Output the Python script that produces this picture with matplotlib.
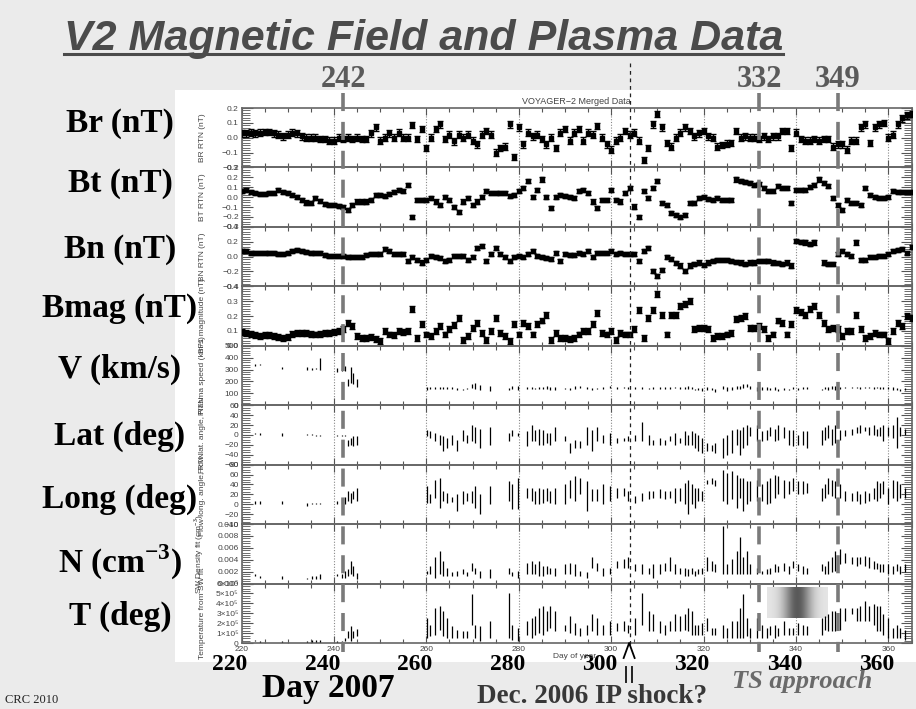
import numpy as np
import matplotlib
matplotlib.use('Agg')
import matplotlib.pyplot as plt
import matplotlib.transforms as mtransforms
from matplotlib.lines import Line2D
from matplotlib.patches import Rectangle
from matplotlib.ticker import MultipleLocator, AutoMinorLocator, FuncFormatter

plt.rcParams['font.family'] = ['Liberation Sans', 'DejaVu Sans']
plt.rcParams['mathtext.fontset'] = 'custom'
plt.rcParams['mathtext.rm'] = 'Liberation Serif:bold'
plt.rcParams['mathtext.bf'] = 'Liberation Serif:bold'

# ---------------- data ----------------
DAYS = list(range(220, 366))

BR = [0.03, 0.03, 0.035, 0.03, 0.035, 0.04, 0.04, 0.03, 0.02, 0.01,
      0.02, 0.035, 0.03, 0.01, 0.0, 0.0, 0.0, -0.01, -0.01, -0.02,
      -0.02, 0.0, -0.01, 0.0, -0.01, 0.0, -0.01, -0.01, 0.03, 0.07,
      -0.02, 0.0, 0.03, 0.0, 0.035, 0.0, 0.0, 0.085, -0.01, 0.06,
      -0.07, 0.0, 0.06, 0.09, -0.01, 0.02, -0.025, 0.02, 0.0, 0.02,
      -0.02, -0.045, 0.02, 0.045, 0.02, -0.1, -0.07, -0.06, 0.09, -0.13,
      0.07, -0.045, 0.035, 0.01, 0.02, -0.01, -0.045, 0.0, -0.07, 0.035,
      0.06, -0.02, 0.035, 0.06, -0.02, 0.035, 0.02, 0.08, 0.0, -0.045,
      -0.08, -0.02, 0.0, 0.045, 0.02, 0.035, -0.02, -0.15, -0.07, 0.09,
      0.16, 0.07, -0.035, -0.06, 0.0, 0.035, 0.07, 0.045, 0.01, 0.03,
      0.045, 0.01, 0.0, -0.06, -0.05, -0.04, -0.035, 0.045, 0.0, 0.01,
      0.0, 0.0, -0.01, 0.01, -0.01, 0.01, 0.01, 0.045, 0.045, -0.07,
      0.035, -0.01, -0.02, -0.02, -0.01, -0.02, -0.01, -0.01, -0.06, -0.045,
      -0.045, -0.08, -0.02, -0.02, 0.07, 0.09, -0.035, 0.07, 0.09, 0.1,
      0.0, 0.02, 0.09, 0.13, 0.15, 0.16]

BT = [0.06, 0.075, 0.05, 0.04, 0.035, 0.035, 0.04, 0.045, 0.07, 0.05,
      0.04, 0.025, 0.0, -0.03, -0.055, -0.06, -0.01, -0.04, -0.07, -0.08,
      -0.08, -0.09, -0.1, -0.13, -0.08, -0.045, -0.045, -0.045, -0.03, 0.025,
      0.025, 0.01, 0.03, 0.05, 0.075, 0.06, 0.125, -0.2, -0.03, -0.03,
      -0.03, -0.01, -0.045, -0.08, 0.0, -0.03, -0.1, -0.15, -0.045, -0.01,
      -0.08, -0.045, 0.0, 0.06, 0.04, 0.04, 0.045, 0.04, 0.015, 0.025,
      0.06, 0.09, 0.16, 0.0, 0.07, 0.18, 0.0, -0.11, 0.0, 0.025,
      0.015, 0.0, -0.01, 0.06, 0.075, 0.04, -0.045, -0.11, -0.03, -0.03,
      0.075, -0.03, -0.045, 0.04, 0.09, -0.095, -0.2, 0.06, -0.01, 0.09,
      0.16, -0.06, -0.08, -0.16, -0.18, -0.2, -0.18, -0.06, -0.06, -0.01,
      0.0, -0.02, -0.03, -0.01, -0.03, -0.03, -0.03, 0.18, 0.16, 0.15,
      0.14, 0.125, 0.13, 0.09, 0.06, 0.06, 0.11, 0.09, 0.09, -0.06,
      0.075, 0.075, 0.075, 0.1, 0.125, 0.18, 0.14, 0.11, -0.01, -0.08,
      -0.13, -0.03, -0.06, -0.06, -0.08, 0.09, 0.025, 0.0, -0.01, -0.01,
      0.0, 0.06, 0.05, 0.05, 0.05, 0.05]

BN = [0.07, 0.075, 0.05, 0.045, 0.05, 0.05, 0.05, 0.05, 0.04, 0.03,
      0.05, 0.07, 0.085, 0.075, 0.06, 0.05, 0.05, 0.045, 0.02, 0.01,
      0.01, 0.01, 0.01, 0.0, -0.01, -0.01, 0.0, 0.02, 0.03, 0.03,
      0.03, 0.1, 0.075, 0.03, 0.04, 0.04, -0.06, 0.0, -0.05, -0.08,
      -0.04, 0.01, -0.01, -0.02, -0.06, -0.04, 0.01, 0.01, 0.01, -0.04,
      -0.01, 0.12, 0.14, -0.06, 0.04, 0.12, 0.03, -0.01, -0.06, -0.01,
      0.01, -0.01, 0.03, 0.075, 0.01, -0.01, -0.02, -0.03, 0.05, -0.06,
      0.03, 0.02, 0.02, 0.05, 0.03, 0.075, -0.01, 0.05, 0.05, 0.05,
      0.075, 0.04, 0.05, 0.03, 0.04, 0.04, -0.06, 0.075, 0.12, -0.19,
      -0.26, -0.18, -0.01, -0.03, -0.09, -0.12, -0.19, -0.12, -0.1, -0.08,
      -0.11, -0.08, -0.06, -0.05, -0.04, -0.05, -0.06, -0.07, -0.08, -0.1,
      -0.08, -0.08, -0.06, -0.06, -0.06, -0.08, -0.09, -0.1, -0.08, -0.12,
      0.21, 0.2, 0.19, 0.17, 0.19, np.nan, -0.08, -0.1, -0.1, 0.03,
      0.075, 0.03, 0.01, 0.19, -0.04, -0.04, -0.01, -0.01, 0.01, 0.01,
      0.03, 0.075, 0.09, 0.1, 0.05, 0.13]

BMAG = [0.09, 0.087, 0.08, 0.07, 0.064, 0.07, 0.07, 0.064, 0.06, 0.053,
        0.06, 0.08, 0.087, 0.087, 0.085, 0.08, 0.076, 0.08, 0.085, 0.087,
        0.09, 0.1, 0.11, 0.156, 0.133, 0.064, 0.053, 0.053, 0.058, 0.045,
        0.034, 0.1, 0.076, 0.07, 0.1, 0.09, 0.1, 0.25, 0.053, 0.145,
        0.076, 0.064, 0.1, 0.133, 0.076, 0.11, 0.14, 0.19, 0.04, 0.064,
        0.12, 0.156, 0.087, 0.04, 0.1, 0.19, 0.087, 0.064, 0.03, 0.145,
        0.076, 0.156, 0.133, 0.076, 0.145, 0.17, 0.21, 0.04, 0.087, 0.053,
        0.053, 0.048, 0.053, 0.076, 0.1, 0.1, 0.145, 0.22, 0.087, 0.076,
        0.1, 0.04, 0.087, 0.076, 0.076, 0.11, 0.24, 0.053, 0.19, 0.24,
        0.35, 0.21, 0.076, 0.21, 0.21, 0.27, 0.28, 0.3, 0.11, 0.12,
        0.12, 0.11, 0.053, 0.064, 0.064, 0.076, 0.087, 0.18, 0.19, 0.2,
        0.12, 0.12, 0.133, 0.11, 0.053, 0.076, 0.17, 0.156, 0.076, 0.145,
        0.24, 0.225, 0.21, 0.25, 0.27, 0.21, 0.156, 0.11, 0.12, 0.11,
        0.064, 0.1, 0.1, 0.21, 0.11, 0.053, 0.064, 0.087, 0.076, 0.076,
        0.03, 0.1, 0.156, 0.133, 0.2, 0.19]

B_ERR = [0.022, 0.022, 0.028, 0.02]

# plasma samples (day of year) and min/max range of each sample
P_DAY = [222.9, 224.0, 228.7, 234.1, 235.2, 236.2, 237.0, 240.6, 241.7, 242.4, 243.1, 243.8, 244.2, 244.9,
         260.1, 260.8, 261.9, 263.0, 263.7, 264.4, 265.5, 266.6, 268.0, 268.7,
         269.8, 270.5, 271.6, 273.8, 277.8, 278.5, 279.9, 281.7, 282.8, 283.5,
         284.3, 285.3, 286.1, 286.8, 287.9, 290.0, 291.1, 292.2, 293.3, 294.7,
         295.8, 296.9, 298.3, 299.8, 301.2, 302.7, 303.7, 305.2, 306.6, 308.1, 309.1,
         310.6, 311.7, 312.7, 313.8, 314.9, 316.0, 316.7, 317.4, 318.2, 318.9,
         319.6, 320.7, 321.8, 322.5, 324.3, 325.0, 326.1, 327.2, 327.9, 328.6,
         329.3, 330.1, 331.5, 332.6, 333.7, 334.4, 335.5, 336.2, 337.3, 338.4,
         339.4, 340.5, 341.6, 342.3, 345.6, 346.3, 347.0, 347.7, 348.5, 349.5,
         350.6, 352.1, 353.2, 353.9, 355.0, 355.7, 356.8, 357.5, 358.2, 358.9,
         360.0, 361.1, 361.8, 362.5, 363.6]

V_RANGE = [(330, 350), (335, 345), (305, 320), (300, 320), (300, 315), (305, 315), (300, 400),
           (280, 310), (290, 310), (290, 330), (165, 220), (190, 320), (180, 270), (150, 220),
           (130, 150), (135, 150), (138, 152), (135, 150), (140, 155), (138, 150), (140, 155), (130, 142), (125, 140), (135, 148),
           (145, 175), (140, 185), (130, 170), (120, 165), (125, 145), (135, 160), (130, 165), (135, 150), (140, 155), (135, 148),
           (140, 155), (135, 150), (140, 160), (130, 150), (125, 155), (135, 145), (130, 145), (140, 160), (145, 165), (135, 150),
           (130, 148), (135, 145), (140, 155), (145, 160), (140, 150), (142, 152), (140, 150), (138, 150), (140, 152), (135, 148), (138, 150),
           (140, 152), (138, 150), (140, 150), (142, 155), (140, 152), (138, 155), (140, 160), (135, 150), (125, 140), (130, 148),
           (120, 145), (130, 150), (125, 145), (110, 140), (135, 160), (120, 150), (130, 155), (140, 160), (135, 165), (145, 175),
           (150, 180), (140, 160), (120, 155), (125, 150), (130, 150), (125, 145), (130, 150), (120, 140), (130, 148), (125, 140),
           (135, 150), (130, 148), (140, 150), (135, 150), (125, 140), (135, 155), (130, 150), (140, 160), (125, 160), (140, 155),
           (145, 155), (142, 152), (145, 155), (140, 152), (145, 155), (142, 152), (140, 150), (145, 155), (138, 150), (140, 152),
           (135, 150), (130, 150), (125, 145), (120, 140), (130, 145)]

LAT_RANGE = [(1, 3), (0, 3), (-3, 3), (-1, 1), (-1, 1), (-2, 0), (-2, 0),
             (-2, 0), (-2, 0), (-3, 0), (-23, -10), (-20, -7), (-23, -3), (-20, -3),
             (-3, 10), (-7, 7), (-13, 3), (-20, 0), (-33, -3), (-27, -7), (-20, 0), (-33, -10), (-13, 10), (-17, 0),
             (-13, 20), (-17, 17), (-27, 13), (-20, 17), (-13, 3), (-3, 10), (-3, 3), (-23, 7), (-13, 20), (-13, 10),
             (-20, 13), (-20, 10), (-17, 3), (-20, 3), (-13, 17), (-13, -3), (-37, -17), (-27, -10), (-27, -13), (-20, 17),
             (-33, 10), (-13, 17), (-17, 0), (-20, 3), (-17, -7), (-13, -7), (-13, -3), (-13, 0), (-13, 27), (-20, 0), (-20, -10),
             (-20, -7), (-20, -10), (-13, -3), (-20, 3), (-17, -7), (-20, 7), (-20, 0), (-20, 7), (-27, 3), (-33, 0),
             (-37, -7), (-33, -17), (-33, -20), (-37, -17), (-47, -7), (-40, 0), (-37, 10), (-20, 13), (-40, 10), (-27, 17),
             (-20, 20), (-3, 17), (-13, 20), (-13, 7), (-10, 10), (-3, 17), (-13, 13), (-10, 20), (-7, 17), (-20, 10),
             (-23, 10), (-20, 0), (-20, 7), (-27, 7), (-20, 10), (-10, 17), (-7, 20), (-20, 13), (-17, 20), (-10, 10),
             (-3, 10), (0, 13), (3, 17), (3, 20), (7, 17), (0, 17), (0, 20), (-3, 13), (-3, 17), (-13, 20),
             (-3, 17), (-7, 20), (-27, 37), (-3, 17), (0, 13)]

LONG_RANGE = [(1, 7), (1, 7), (1, 7), (-3, 3), (0, 3), (0, 3), (0, 3),
              (0, 7), (0, 13), (0, 15), (7, 27), (3, 23), (10, 27), (7, 33),
              (3, 37), (3, 20), (13, 50), (-7, 53), (7, 27), (3, 23), (5, 15), (-13, 20), (0, 27), (7, 23),
              (3, 27), (-7, 37), (-20, 20), (0, 37), (7, 47), (-10, 40), (-10, 53), (13, 33), (7, 33), (0, 27),
              (0, 33), (3, 30), (7, 33), (3, 27), (0, 33), (0, 40), (13, 50), (7, 57), (20, 53), (-13, 47),
              (7, 30), (7, 30), (0, 40), (7, 37), (13, 33), (17, 33), (7, 27), (3, 17), (7, 23), (10, 27), (13, 27),
              (13, 30), (10, 27), (13, 27), (3, 33), (7, 33), (0, 43), (-20, 50), (0, 40), (-7, 33), (7, 33),
              (7, 27), (40, 50), (40, 53), (37, 50), (7, 70), (0, 63), (10, 67), (-7, 60), (13, 53), (-13, 53),
              (0, 47), (7, 47), (7, 50), (7, 40), (0, 47), (3, 53), (13, 60), (20, 57), (13, 50), (20, 47),
              (27, 53), (20, 47), (20, 47), (23, 43), (7, 33), (13, 40), (20, 53), (17, 50), (13, 47), (13, 40),
              (7, 27), (7, 23), (7, 27), (0, 20), (3, 27), (7, 23), (10, 33), (7, 47), (13, 43), (20, 47),
              (0, 33), (13, 50), (7, 47), (13, 40), (13, 33)]

N_RANGE = [(0.0013, 0.0016), (0.0010, 0.0013), (0.0007, 0.0013), (0.0007, 0.0010), (0.0007, 0.0013), (0.0007, 0.0013), (0.0007, 0.0016),
           (0.0013, 0.0016), (0.0010, 0.0016), (0.0010, 0.0021), (0.0013, 0.0024), (0.0016, 0.0038), (0.0013, 0.0030), (0.0007, 0.0018),
           (0.0016, 0.0021), (0.0016, 0.0030), (0.0010, 0.0044), (0.0016, 0.0055), (0.0013, 0.0038), (0.0013, 0.0027), (0.0013, 0.0019), (0.0013, 0.0021), (0.0016, 0.0024), (0.0013, 0.0019),
           (0.0021, 0.0035), (0.0016, 0.0027), (0.0010, 0.0021), (0.0010, 0.0024), (0.0016, 0.0027), (0.0013, 0.0019), (0.0010, 0.0021), (0.0016, 0.0035), (0.0016, 0.0038), (0.0016, 0.0033),
           (0.0013, 0.0038), (0.0013, 0.0030), (0.0016, 0.0030), (0.0016, 0.0027), (0.0013, 0.0027), (0.0016, 0.0033), (0.0016, 0.0035), (0.0013, 0.0033), (0.0013, 0.0021), (0.0010, 0.0019),
           (0.0027, 0.0044), (0.0021, 0.0035), (0.0013, 0.0027), (0.0016, 0.0027), (0.0027, 0.0038), (0.0027, 0.0041), (0.0027, 0.0044), (0.0021, 0.0033), (0.0016, 0.0033), (0.0016, 0.0027), (0.0010, 0.0033),
           (0.0016, 0.0033), (0.0021, 0.0035), (0.0021, 0.0044), (0.0016, 0.0033), (0.0016, 0.0027), (0.0013, 0.0027), (0.0013, 0.0024), (0.0016, 0.0027), (0.0013, 0.0021), (0.0016, 0.0024),
           (0.0016, 0.0027), (0.0021, 0.0044), (0.0021, 0.0038), (0.0019, 0.0033), (0.0016, 0.0097), (0.0016, 0.0033), (0.0016, 0.0041), (0.0016, 0.0055), (0.0016, 0.0078), (0.0016, 0.0044),
           (0.0016, 0.0055), (0.0016, 0.0033), (0.0016, 0.0027), (0.0016, 0.0021), (0.0016, 0.0024), (0.0016, 0.0027), (0.0019, 0.0033), (0.0019, 0.0030), (0.0021, 0.0035), (0.0016, 0.0030),
           (0.0027, 0.0038), (0.0021, 0.0033), (0.0016, 0.0030), (0.0016, 0.0027), (0.0021, 0.0033), (0.0016, 0.0030), (0.0016, 0.0038), (0.0019, 0.0044), (0.0021, 0.0055), (0.0033, 0.0058),
           (0.0035, 0.0052), (0.0033, 0.0044), (0.0030, 0.0044), (0.0033, 0.0044), (0.0030, 0.0047), (0.0027, 0.0044), (0.0024, 0.0038), (0.0024, 0.0035), (0.0019, 0.0033), (0.0019, 0.0033),
           (0.0016, 0.0033), (0.0016, 0.0030), (0.0021, 0.0033), (0.0016, 0.0030), (0.0019, 0.0033)]

# temperature in units of 1e5 K
T_RANGE = [(0.17, 0.34), (0.1, 0.2), (0.1, 0.25), (0.1, 0.25), (0.1, 0.3), (0.1, 0.3), (0.1, 0.3),
           (0.1, 0.2), (0.1, 0.2), (0.2, 0.5), (0.5, 1.2), (0.17, 1.7), (0.5, 1.2), (0.7, 1.4),
           (0.51, 2.54), (0.68, 1.86), (0.85, 3.56), (1.36, 3.73), (0.68, 3.22), (0.51, 2.54), (0.51, 1.7), (0.51, 1.36), (0.51, 1.19), (0.51, 1.19),
           (1.86, 4.92), (0.51, 1.86), (0.17, 1.7), (0.51, 2.2), (0.51, 5.09), (0.34, 1.86), (0.17, 1.53), (0.85, 2.2), (0.51, 2.54), (0.85, 2.71),
           (1.02, 3.56), (0.85, 3.73), (1.19, 3.22), (1.53, 3.73), (1.19, 3.22), (1.19, 1.86), (1.02, 2.71), (0.85, 2.03), (0.68, 1.53), (0.85, 1.86),
           (1.19, 2.88), (0.85, 2.54), (0.85, 1.86), (0.85, 2.2), (1.19, 2.03), (1.19, 2.2), (1.02, 1.86), (0.85, 2.54), (1.86, 5.09), (1.19, 3.22), (1.19, 2.88),
           (1.02, 2.2), (0.85, 1.86), (1.19, 2.2), (1.19, 2.88), (1.19, 2.71), (1.36, 2.88), (1.19, 3.56), (0.85, 3.22), (0.85, 1.86), (0.85, 1.86),
           (0.85, 2.03), (1.19, 2.54), (0.85, 1.53), (0.85, 1.53), (0.51, 1.86), (0.51, 1.53), (0.51, 2.2), (0.51, 2.2), (0.51, 3.56), (0.51, 4.92),
           (0.68, 2.54), (0.51, 1.53), (0.51, 2.54), (0.51, 1.86), (0.51, 1.53), (0.85, 1.7), (0.51, 1.86), (0.68, 1.53), (0.85, 2.2), (0.85, 1.53),
           (0.85, 1.53), (0.85, 2.03), (0.85, 1.86), (0.85, 1.7), (0.85, 2.54), (1.36, 2.71), (1.19, 2.88), (1.19, 3.22), (1.19, 3.22), (1.36, 3.56),
           (2.2, 3.56), (2.88, 3.56), (2.2, 3.56), (2.2, 3.73), (2.2, 4.24), (2.2, 3.73), (1.86, 3.9), (1.19, 3.73), (1.19, 3.73), (0.85, 2.88),
           (0.51, 2.54), (0.51, 1.53), (0.51, 1.86), (0.51, 1.53), (0.34, 1.36)]

EVENT_DAYS = [242, 332, 349]
SHOCK_DAY = 304
BIG_TICKS = [220, 240, 260, 280, 300, 320, 340, 360]
SHADE_DAYS = (333.7, 346.7)
SHADE_T = (2.5, 5.6)

LEFT_LABELS = ['Br (nT)', 'Bt (nT)', 'Bn (nT)', 'Bmag (nT)', 'V (km/s)',
               'Lat (deg)', 'Long (deg)', r'N (cm$^{\mathbf{-3}}$)', 'T (deg)']
AX_LABELS = ['BR RTN (nT)', 'BT RTN (nT)', 'BN RTN (nT)', 'BF1 magnitude (nT)',
             'Plasma speed (km/s)', 'Flow lat. angle, RTN', 'Flow long. angle, RTN',
             'SW Density fit (cm$^{-3}$)', 'Temperature from SW fit']

# ---------------- figure ----------------
W, H = 916, 709
fig = plt.figure(figsize=(W / 100, H / 100), dpi=100, facecolor='#ebebeb')


def fx(px):
    return px / W


def fy(py):
    return 1 - py / H


fig.patches.append(Rectangle((fx(175), fy(662)), fx(916 - 175), (662 - 90) / H,
                             transform=fig.transFigure, facecolor='white',
                             edgecolor='none', zorder=-5))

x_left, x_right = 241.5, 911.5
p_top, p_bot = 108, 643
n_pan = 9
ph = (p_bot - p_top) / n_pan

def fmt_b(v, _):
    return f'{v:.1f}'.replace('-', '\u2212')

def fmt_int(v, _):
    return f'{v:.0f}'.replace('-', '\u2212')

def fmt_n(v, _):
    return f'{v:.3f}'

def fmt_t(v, _):
    return '0' if abs(v) < 1e-9 else f'{v:.0f}\u00d710\u2075'

specs = [
    dict(ylim=(-0.2, 0.2), step=0.1, minor=6, fmt=fmt_b),
    dict(ylim=(-0.3, 0.3), step=0.1, minor=4, fmt=fmt_b),
    dict(ylim=(-0.4, 0.4), step=0.2, minor=6, fmt=fmt_b),
    dict(ylim=(0.0, 0.4), step=0.1, minor=6, fmt=fmt_b),
    dict(ylim=(0, 500), step=100, minor=5, fmt=fmt_int),
    dict(ylim=(-60, 60), step=20, minor=4, fmt=fmt_int),
    dict(ylim=(-40, 80), step=20, minor=4, fmt=fmt_int),
    dict(ylim=(0, 0.010), step=0.002, minor=5, fmt=fmt_n),
    dict(ylim=(0, 6), step=1, minor=4, fmt=fmt_t),
]

axes = []
for i, sp in enumerate(specs):
    ax = fig.add_axes([fx(x_left), fy(p_top + (i + 1) * ph), (x_right - x_left) / W, ph / H])
    ax.set_facecolor('none')
    ax.set_xlim(220, 365)
    ax.set_ylim(*sp['ylim'])
    ax.xaxis.set_major_locator(MultipleLocator(20))
    ax.xaxis.set_minor_locator(MultipleLocator(5))
    ax.yaxis.set_major_locator(MultipleLocator(sp['step']))
    ax.yaxis.set_minor_locator(AutoMinorLocator(sp['minor']))
    ax.yaxis.set_major_formatter(FuncFormatter(sp['fmt']))
    ax.tick_params(axis='both', which='both', direction='in', top=True, right=True,
                   colors='#555555', labelcolor='#444444', labelsize=6, pad=2)
    ax.tick_params(axis='x', which='major', length=5, width=0.8)
    ax.tick_params(axis='x', which='minor', length=3, width=0.8)
    ax.tick_params(axis='y', which='major', length=8, width=0.8)
    ax.tick_params(axis='y', which='minor', length=6, width=0.6)
    if i < n_pan - 1:
        ax.tick_params(axis='x', labelbottom=False)
    for s in ax.spines.values():
        s.set_color('#666666')
        s.set_linewidth(1.2)
    ax.grid(True, axis='x', which='major', linestyle=(0, (1, 1.5)), color='#888888', lw=0.8)
    ax.set_ylabel(AX_LABELS[i], fontsize=6, color='#444444')
    ax.yaxis.set_label_coords((206 - x_left) / (x_right - x_left), 0.5)
    axes.append(ax)

# magnetic field panels: daily points with error bars
for ax, vals, err in zip(axes[:4], [BR, BT, BN, BMAG], B_ERR):
    ax.errorbar(DAYS, vals, yerr=err, fmt='s', ms=2.2, mfc='black', mec='black',
                ecolor='black', elinewidth=1.0, capsize=2.0, capthick=1.0, zorder=3)

# plasma panels: vertical min/max segments
for ax, rng in zip(axes[4:], [V_RANGE, LAT_RANGE, LONG_RANGE, N_RANGE, T_RANGE]):
    lo = [r[0] for r in rng]
    hi = [r[1] for r in rng]
    ax.vlines(P_DAY, lo, hi, colors='black', lw=0.9, zorder=3)

# shaded TS approach block in T panel
grad = np.linspace(-1, 1, 200)
shade = 0.9 - 0.55 * np.exp(-(grad / 0.45) ** 2)
axes[8].imshow(shade[np.newaxis, :], cmap='gray', vmin=0, vmax=1, aspect='auto',
               extent=[SHADE_DAYS[0], SHADE_DAYS[1], SHADE_T[0], SHADE_T[1]], zorder=2)
axes[8].set_xlim(220, 365)
axes[8].set_ylim(0, 6)

axes[-1].tick_params(axis='x', labelsize=6, pad=2)
fig.text(fx(575), fy(657), 'Day of year', fontsize=6, color='#444444', ha='center', va='center')
fig.text(fx(576), fy(101), 'VOYAGER\u22122 Merged Data', fontsize=6.5, color='#444444',
         ha='center', va='center')

# event lines spanning all panels
btr = mtransforms.blended_transform_factory(axes[0].transData, fig.transFigure)
for d in EVENT_DAYS:
    fig.add_artist(Line2D([d, d], [fy(93), fy(652)], transform=btr, color='#7a7a7a',
                          lw=2.6, dashes=(5, 3), zorder=5))
fig.add_artist(Line2D([SHOCK_DAY, SHOCK_DAY], [fy(63), fy(645)], transform=btr,
                      color='#222222', lw=0.9, dashes=(3, 3), zorder=5))

# shock marker below the axis
shock_px = axes[0].transData.transform((SHOCK_DAY, 0))[0]
fig.add_artist(Line2D([fx(shock_px - 6), fx(shock_px - 0.5), fx(shock_px + 5)],
                      [fy(658), fy(643), fy(658)], color='black', lw=1.3, zorder=6))
for dx in (-3.5, 2):
    fig.add_artist(Line2D([fx(shock_px + dx)] * 2, [fy(667), fy(682)], color='#222222', lw=1.4))

# slide text
serif = ['Liberation Serif', 'DejaVu Serif']
title = fig.text(fx(64), fy(50), 'V2 Magnetic Field and Plasma Data', fontsize=31,
                 fontweight='bold', fontstyle='italic', family=['Liberation Sans'],
                 color='#4b4b4b', ha='left', va='baseline')
fig.canvas.draw()
bb = title.get_window_extent()
fig.add_artist(Line2D([bb.x0 / W, bb.x1 / W], [fy(54), fy(54)], color='#4b4b4b', lw=2.2))

for d in EVENT_DAYS:
    axes[0].text(d, fy(87), str(d), transform=btr, fontsize=22, fontweight='bold',
                 family=serif, color='#5a5a5a', ha='center', va='baseline')

baselines = [132, 192, 258, 317, 378, 445, 508, 573, 625]
for lab, yb in zip(LEFT_LABELS, baselines):
    fig.text(fx(120), fy(yb), lab, fontsize=24, fontweight='bold', family=serif,
             color='black', ha='center', va='baseline')

for d in BIG_TICKS:
    axes[-1].text(d - 2.5, fy(670), str(d), transform=btr, fontsize=17, fontweight='bold',
                  family=serif, color='black', ha='center', va='baseline', zorder=6)

fig.text(fx(262), fy(697), 'Day 2007', fontsize=24, fontweight='bold', family=serif,
         color='black', ha='left', va='baseline')
fig.text(fx(477), fy(703), 'Dec. 2006 IP shock?', fontsize=19.5, fontweight='bold',
         family=serif, color='#383838', ha='left', va='baseline')
fig.text(fx(732), fy(688), 'TS approach', fontsize=19, fontweight='bold', fontstyle='italic',
         family=serif, color='#6a6a6a', ha='left', va='baseline')
fig.text(fx(5), fy(703), 'CRC 2010', fontsize=9, family=serif, color='#222222',
         ha='left', va='baseline')

fig.savefig('out.png', dpi=100, facecolor=fig.get_facecolor())
